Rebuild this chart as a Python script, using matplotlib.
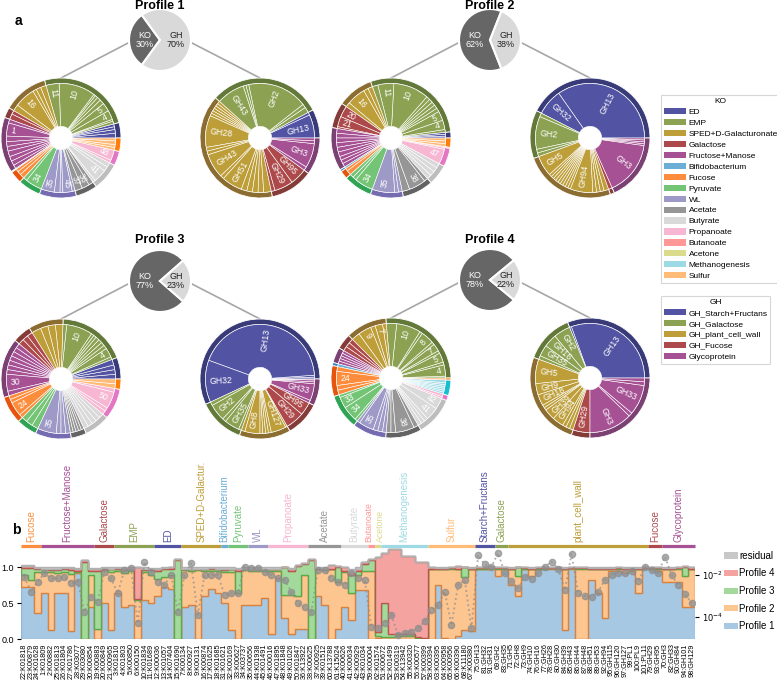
import numpy as np
import matplotlib
matplotlib.use('Agg')
import matplotlib.pyplot as plt
from matplotlib.patches import Patch

plt.rcParams.update({
    'font.family': 'sans-serif',
    'font.sans-serif': ['Liberation Sans', 'DejaVu Sans'],
    'font.size': 7,
})

W, H = 777, 690

# ===================== COLOURS (inner, ring) =====================
KO_COLORS = {
    'ED': ('#5254a3', '#393b79'),
    'EMP': ('#8ca252', '#637939'),
    'SPED+D-Galacturonate': ('#bd9e39', '#8c6d31'),
    'Galactose': ('#ad494a', '#843c39'),
    'Fructose+Manose': ('#a55194', '#7b4173'),
    'Bifidobacterium': ('#6baed6', '#3182bd'),
    'Fucose': ('#fd8d3c', '#e6550d'),
    'Pyruvate': ('#74c476', '#31a354'),
    'WL': ('#9e9ac8', '#756bb1'),
    'Acetate': ('#969696', '#636363'),
    'Butyrate': ('#d9d9d9', '#bdbdbd'),
    'Propanoate': ('#f7b6d2', '#e377c2'),
    'Butanoate': ('#ff9896', '#d62728'),
    'Acetone': ('#dbdb8d', '#bcbd22'),
    'Methanogenesis': ('#9edae5', '#17becf'),
    'Sulfur': ('#ffbb78', '#ff7f0e'),
}
GH_COLORS = {
    'GH_Starch+Fructans': ('#5254a3', '#393b79'),
    'GH_Galactose': ('#8ca252', '#637939'),
    'GH_plant_cell_wall': ('#bd9e39', '#8c6d31'),
    'GH_Fucose': ('#ad494a', '#843c39'),
    'Glycoprotein': ('#a55194', '#7b4173'),
}

# ===================== PANEL A DATA =====================
profiles = ['Profile 1', 'Profile 2', 'Profile 3', 'Profile 4']
ko_share = [30, 62, 77, 78]   # % KO, rest is GH

# donut slices: (category, slice sizes in degrees, {slice index: label})
p1_ko = [
    ('ED', [5, 4, 3, 3], {}),
    ('EMP', [3, 2, 10, 9, 5, 4, 3, 2, 39, 14], {2: '4', 3: '5', 8: '10', 9: '11'}),
    ('SPED+D-Galacturonate', [6, 5, 4, 22, 7], {3: '16'}),
    ('Galactose', [4, 6], {}),
    ('Fructose+Manose', [4, 14, 6, 5, 5, 6, 5, 5, 4], {1: '1'}),
    ('Bifidobacterium', [1], {}),
    ('Fucose', [3, 4, 5], {}),
    ('Pyruvate', [4, 18], {1: '34'}),
    ('WL', [14, 6, 3, 10, 3], {0: '35', 3: '45'}),
    ('Acetate', [8, 8, 5], {0: '37', 1: '36'}),
    ('Butyrate', [3, 14, 5, 5], {1: '41'}),
    ('Propanoate', [3, 11], {1: '48'}),
    ('Sulfur', [3, 3, 4, 3], {}),
]
p1_gh = [
    ('GH_Starch+Fructans', [25, 3], {0: 'GH13'}),
    ('GH_Galactose', [6, 4, 64, 3, 3, 30], {2: 'GH2', 5: 'GH43'}),
    ('GH_plant_cell_wall', [3, 3, 3, 3, 3, 3, 34, 4, 4, 26, 4, 22, 6, 6, 6, 6, 8],
     {6: 'GH28', 9: 'GH43', 11: 'GH51'}),
    ('GH_Fucose', [4, 20, 18], {1: 'GH29', 2: 'GH95'}),
    ('Glycoprotein', [4, 26, 3, 3], {1: 'GH3'}),
]
p2_ko = [
    ('ED', [2, 2, 2], {}),
    ('EMP', [3, 10, 10, 4, 4, 4, 4, 4, 38, 17, 6], {1: '4', 2: '5', 8: '10', 9: '11'}),
    ('SPED+D-Galacturonate', [5, 5, 20, 5], {2: '16'}),
    ('Galactose', [12, 11, 2], {0: '20', 1: '21'}),
    ('Fructose+Manose', [5, 5, 5, 5, 5, 5, 4, 4, 4], {}),
    ('Bifidobacterium', [2], {}),
    ('Fucose', [3, 5], {}),
    ('Pyruvate', [4, 4, 20], {2: '34'}),
    ('WL', [24, 4, 4], {0: '35'}),
    ('Acetate', [8, 18, 4], {1: '38'}),
    ('Butyrate', [5, 5, 5, 5], {}),
    ('Propanoate', [16, 2], {0: '47'}),
    ('Butanoate', [1], {}),
    ('Sulfur', [3, 3, 3], {}),
]
p2_gh = [
    ('GH_Starch+Fructans', [125, 28], {0: 'GH13', 1: 'GH32'}),
    ('GH_Galactose', [4, 35, 4, 4], {1: 'GH2'}),
    ('GH_plant_cell_wall', [22, 3, 3, 3, 3, 3, 3, 3, 3, 3, 24, 4, 4, 4, 5], {0: 'GH5', 10: 'GH94'}),
    ('GH_Fucose', [4], {}),
    ('Glycoprotein', [58, 2, 2, 2, 2], {0: 'GH3'}),
]
p3_ko = [
    ('ED', [5, 5, 5, 6], {}),
    ('EMP', [3, 10, 4, 4, 4, 4, 3, 3, 28, 4], {1: '4', 8: '10'}),
    ('SPED+D-Galacturonate', [8, 8, 8, 10], {}),
    ('Galactose', [6, 6, 6], {}),
    ('Fructose+Manose', [5, 5, 5, 5, 5, 5, 5, 18, 5], {7: '30'}),
    ('Fucose', [4, 4, 15, 4], {2: '24'}),
    ('Pyruvate', [6, 7, 7], {}),
    ('WL', [20, 5, 5, 5], {0: '35'}),
    ('Acetate', [3, 3, 3, 3, 3], {}),
    ('Butyrate', [5, 5, 5, 5, 5], {}),
    ('Propanoate', [4, 4, 18, 4], {2: '50'}),
    ('Sulfur', [5, 5], {}),
]
p3_gh = [
    ('GH_Starch+Fructans', [2, 2, 156, 45], {2: 'GH13', 3: 'GH32'}),
    ('GH_Galactose', [4, 18, 4, 16, 3], {1: 'GH2', 3: 'GH35'}),
    ('GH_plant_cell_wall', [4, 16, 3, 3, 3, 3, 16, 2], {1: 'GH8', 6: 'GH127'}),
    ('GH_Fucose', [20, 14], {0: 'GH29', 1: 'GH95'}),
    ('Glycoprotein', [3, 18, 2, 2, 1], {1: 'GH33'}),
]
p4_ko = [
    ('EMP', [2, 12, 3, 10, 3, 8, 3, 14, 3, 26, 11], {1: '4', 3: '5', 5: '7', 7: '8', 9: '10'}),
    ('SPED+D-Galacturonate', [4, 8, 5, 14, 9], {1: '7', 3: '9'}),
    ('Galactose', [5, 5, 5], {}),
    ('Fructose+Manose', [3, 3, 3, 3, 3], {}),
    ('Bifidobacterium', [3], {}),
    ('Fucose', [5, 15, 5, 5], {1: '24'}),
    ('Pyruvate', [3, 12, 16, 3], {1: '33', 2: '34'}),
    ('WL', [3, 16, 5, 5, 4], {1: '35'}),
    ('Acetate', [5, 5, 20, 5], {2: '38'}),
    ('Butyrate', [4, 4, 4, 14, 12], {3: '41', 4: '42'}),
    ('Propanoate', [2, 3], {}),
    ('Methanogenesis', [2, 2, 2, 2, 2, 2, 3], {}),
    ('Sulfur', [2], {}),
]
p4_gh = [
    ('GH_Starch+Fructans', [110, 2], {0: 'GH13'}),
    ('GH_Galactose', [18, 14, 12, 4], {0: 'GH2', 1: 'GH16', 2: 'GH35'}),
    ('GH_plant_cell_wall', [26, 12, 12, 3, 3, 12, 12, 4, 4, 4],
     {0: 'GH5', 1: 'GH9', 2: 'GH18', 5: 'GH39', 6: 'GH94'}),
    ('GH_Fucose', [18], {0: 'GH29'}),
    ('Glycoprotein', [46, 4, 32, 4, 4], {0: 'GH3', 2: 'GH33'}),
]
ko_donuts = [p1_ko, p2_ko, p3_ko, p4_ko]
gh_donuts = [p1_gh, p2_gh, p3_gh, p4_gh]

# ===================== PANEL B DATA =====================
ko_labels = ['22:K01818', '23:K00879', '24:K01628', '1:K01809', '2:K00882', '25:K01813', '26:K01804',
             '27:K01786', '28:K03077', '29:K03080', '30:K00854', '19:K00883', '20:K00849', '21:K00965',
             '3:K01810', '4:K01803', '5:K00850', '6:K00150', '10:K01834', '11:K01689',
             '12:K00036', '13:K01057', '14:K07404', '15:K01690',
             '7:K00134', '8:K00927', '9:K00131', '16:K00874', '17:K01625', '18:K01685',
             '31:K01621', '32:K00169', '33:K00627', '34:K03737', '35:K00656', '44:K01938', '45:K01491',
             '46:K00016', '47:K01895', '48:K01848', '49:K01026', '50:K01847', '36:K13922',
             '38:K00625', '37:K00925', '39:K01512', '60:K13788', '61:K15024',
             '40:K00626', '41:K00634', '42:K00929', '43:K01034', '59:K00004', '62:K01574',
             '51:K00672', '52:K01499', '53:K00319', '54:K13942', '55:K00320', '56:K00577', '57:K00399',
             '58:K00394', '63:K00395', '64:K00958', '65:K00956', '66:K00390', '68:K11180', '67:K00380']
gh_labels = ['75:GH13', '81:GH32', '91:GH31', '69:GH2', '83:GH35',
             '71:GH5', '72:GH8', '73:GH9', '74:GH10', '76:GH16', '77:GH26', '78:GH28', '80:GH30',
             '84:GH39', '85:GH43', '86:GH44', '87:GH48', '88:GH51', '89:GH53', '92:GH94', '95:GH115',
             '96:GH120', '97:GH127', '99:PL1', '100:PL9', '101:PL11',
             '79:GH29', '93:GH95', '70:GH3', '82:GH33', '90:GH84', '94:GH101', '98:GH129']
x_labels = ko_labels + gh_labels

band_names = ['Fucose', 'Fructose+Manose', 'Galactose', 'EMP', 'ED', 'SPED+D-Galactur.',
              'Bifidobacterium', 'Pyruvate', 'WL', 'Propanoate', 'Acetate', 'Butyrate',
              'Butanoate', 'Acetone', 'Methanogenesis', 'Sulfur',
              'Starch+Fructans', 'Galactose', 'plant_cell_wall', 'Fucose', 'Glycoprotein']
band_sizes = [3, 8, 3, 6, 4, 6, 1, 3, 3, 6, 5, 4, 1, 1, 7, 7, 3, 2, 21, 2, 5]
band_colors = ['#fd8d3c', '#a55194', '#ad494a', '#8ca252', '#5254a3', '#bd9e39', '#6baed6',
               '#74c476', '#9e9ac8', '#f7b6d2', '#969696', '#d9d9d9', '#ff9896', '#dbdb8d',
               '#9edae5', '#ffbb78', '#5254a3', '#8ca252', '#bd9e39', '#ad494a', '#a55194']

prof1 = [.73, .73, .36, .64, .13, .64, .64, .11, .92, 0, .45, 0, .50, .13, .65, .45, .48, 0, .55, .50,
         .60, .72, .70, 0, .45, .47, 0, .60, .70, .65, .50, .13, 0, .48, .48, .48, .58, .08, .85, .30,
         .08, .15, .15, 0, .60, .48, 0, .15, .45, .27, .68, .68, 0, .02, 0, 0, 0, 0, 0, 0,
         0, 0, .75, .02, 0, .04, .13, .12, .97, .97, .97, .88, .97, .75, .60, .97, .88, .97, .97, .98,
         .98, .13, .98, 0, 0, .82, .65, .30, .95, .95, .92, .95, .65, .99, .97, .95, .80, .80, .80, .45, .45]
prof2 = [.17, .09, .57, .30, .80, .28, .29, .80, .01, 0, .45, .15, .46, .81, .30, .47, .47, .55, .38, .40,
         .24, .15, .20, 0, .51, .48, .96, .35, .25, .30, .43, .81, .65, .48, .47, .47, .37, .87, .10, .32,
         .54, .45, .75, 0, .37, .48, .97, .65, .48, .38, .22, .27, .95, .03, .03, .03, .04, .05, .05, .02,
         .01, .97, .22, .95, .97, .93, .74, .85, .01, .01, .015, .09, .01, .22, .28, .01, .09, .01, .01, .01,
         .01, .84, .01, .98, .98, .15, .32, .67, .02, .02, .05, .02, .32, 0, .01, .03, .17, .17, .17, .43, .52]
prof3 = [.09, .17, .04, .03, .03, .04, .04, .05, .02, 1.08, .05, .80, .02, .03, .02, .04, .02, .01, .03, .06,
         .11, .10, .07, 1.10, .01, .02, .01, .02, .02, .02, .03, .03, .30, .01, .02, .02, .02, .02, .02, .38,
         .33, .42, .15, 1.10, .01, .01, .01, .20, .02, .25, .05, .10, .15, .05, .47, .05, .04, .03, .03, .01,
         .01, .01, .01, .01, .02, .01, .13, .01, .01, .01, .015, .02, .01, .01, .12, .01, .01, .01, .01, 0,
         0, .01, 0, .01, .01, .01, .01, .01, .01, .02, .01, .01, .01, 0, .01, .01, .01, .01, .02, .12, .01]
prof4 = [.03, .03, .02, .01, .02, .02, .02, .03, .02, .02, .02, .02, .01, .01, .02, .02, .01, .44, .02, .01,
         .02, .02, .03, .02, .01, .01, .01, .01, .02, .01, .02, .01, .02, .01, .01, .01, .01, .01, .01, .01,
         .02, .01, .01, .01, .01, .01, .05, .02, .05, .03, .02, .02, .02, 1.05, .70, 1.17, 1.17, 1.08, 1.08, 1.05,
         1.06, .02, .01, .01, .01, .04, .01, .01, .01, .01, .01, .01, .01, .01, .01, .01, .01, .01, .01, .01,
         .01, .01, .01, .01, .01, .01, .01, .01, .01, .01, .01, .01, .01, .01, .01, .01, .01, .01, .01, .02, .03]
resid = [.01, .01, .01, .02, .02, .02, .01, .01, .02, 0, .02, .02, .01, .02, .01, .02, .02, 0, .02, .02,
         .02, .01, 0, 0, .02, .02, .02, .02, .01, .02, .02, .02, .02, .02, .02, .02, .02, .02, .02, 0,
         .02, 0, 0, 0, .01, .02, 0, 0, 0, .04, .03, 0, 0, 0, 0, 0, 0, 0, 0, 0,
         0, 0, .01, .01, 0, 0, 0, .01, 0, 0, 0, 0, 0, .01, 0, 0, .01, 0, 0, 0,
         0, .01, 0, 0, 0, .01, .01, .01, .01, 0, .01, .01, .01, 0, 0, 0, .01, .01, 0, 0, 0]
# log10 abundance (grey dots, right axis)
dot_log = [-2.08, -2.79, -2.32, -1.92, -2.16, -2.16, -2.08, -2.40, -2.32, -3.75,
           -3.03, -3.27, -1.84, -2.16, -2.87, -1.76, -1.68, -4.30, -1.37, -1.84,
           -2.32, -2.48, -2.00, -3.75, -2.00, -1.45, -3.90, -2.00, -2.00, -2.00,
           -2.95, -2.87, -2.87, -1.60, -1.68, -1.68, -1.84, -2.00, -2.16, -2.24,
           -2.79, -3.35, -3.51, -3.75, -1.76, -1.76, -2.16, -2.32, -2.48, -1.92,
           -2.16, -2.24, -4.46, -4.54, -4.30, -3.90, -4.86, -4.78, -4.70, -4.54,
           -4.20, -3.67, -3.43, -2.79, -4.38, -2.48, -2.24, -4.54, -1.05, -1.50,
           -1.60, -0.95, -1.92, -2.30, -2.63, -2.08, -2.20, -1.92, -1.60, -1.37,
           -1.70, -2.71, -1.00, -2.87, -3.00, -3.03, -2.79, -2.24, -2.00, -1.90,
           -1.92, -1.80, -2.30, -1.60, -1.76, -1.90, -1.13, -2.00, -2.48, -2.90, -3.35]

# ===================== FIGURE =====================
fig = plt.figure(figsize=(W / 100, H / 100), dpi=100)
ax = fig.add_axes([0, 0, 1, 1])


def py(y):
    return H - y


def donut(cx, cy, groups, colors, R=60, ring=5.5, hole=11.7):
    cats = [g[0] for g in groups]
    tot = [sum(g[1]) for g in groups]
    ax.pie(tot, colors=[colors[c][1] for c in cats], radius=R, center=(cx, py(cy)),
           startangle=0, counterclock=True, frame=True,
           wedgeprops=dict(width=ring, edgecolor='white', linewidth=0.6))
    sub = [v for g in groups for v in g[1]]
    subcol = [colors[g[0]][0] for g in groups for v in g[1]]
    ax.pie(sub, colors=subcol, radius=R - ring, center=(cx, py(cy)),
           startangle=0, counterclock=True, frame=True,
           wedgeprops=dict(width=R - ring - hole, edgecolor='white', linewidth=0.4))
    total = float(sum(sub))
    a0 = 0.0
    for c, sizes, labs in groups:
        for i, v in enumerate(sizes):
            if i in labs:
                th = (a0 + v / 2) / total * 360
                t = np.deg2rad(th)
                rr = R - ring - 4
                x, y = cx + rr * np.cos(t), py(cy) + rr * np.sin(t)
                if 90 < th < 270:
                    rot, ha = th - 180, 'left'
                else:
                    rot, ha = th, 'right'
                ax.text(x, y, labs[i], rotation=rot, rotation_mode='anchor', ha=ha, va='center',
                        color='white', fontsize=6.3)
            a0 += v


small_centers = [(160, 40), (490, 40), (160, 281), (490, 280)]
title_y = [6, 6, 240, 240]
for k, (cx, cy) in enumerate(small_centers):
    ko = ko_share[k]
    gh = 100 - ko
    kx, gx = cx - 99, cx + 100
    dy = cy + 98
    # connecting lines
    ax.plot([cx - 30, kx], [py(cy + 2), py(dy - 60)], color='#a6a6a6', lw=1.2, zorder=0)
    ax.plot([cx + 30, gx], [py(cy + 2), py(dy - 60)], color='#a6a6a6', lw=1.2, zorder=0)
    ax.pie([ko, gh], colors=['#666666', '#d9d9d9'], radius=31, center=(cx, py(cy)),
           startangle=180 - ko * 1.8, counterclock=True, frame=True,
           wedgeprops=dict(edgecolor='white', linewidth=1.5))
    ax.text(cx - 15, py(cy), f'KO\n{ko}%', color='white', ha='center', va='center',
            fontsize=6.5, linespacing=0.95)
    ax.text(cx + 16, py(cy), f'GH\n{gh}%', color='#222222', ha='center', va='center',
            fontsize=6.5, linespacing=0.95)
    ax.text(cx, py(title_y[k]), profiles[k], ha='center', va='center', fontsize=9, weight='bold')
    donut(kx, dy, ko_donuts[k], KO_COLORS)
    donut(gx, dy, gh_donuts[k], GH_COLORS)

ax.set_xlim(0, W)
ax.set_ylim(0, H)
ax.set_aspect('auto')
ax.axis('off')

fig.text(15 / W, 1 - 21 / H, 'a', fontsize=10, weight='bold', va='center')
fig.text(12 / W, 1 - 530 / H, 'b', fontsize=10, weight='bold', va='center')

# legends for panel a
ko_handles = [Patch(facecolor=v[0], label=k) for k, v in KO_COLORS.items()]
gh_handles = [Patch(facecolor=v[0], label=k) for k, v in GH_COLORS.items()]
leg_kw = dict(loc='upper left', fontsize=6, title_fontsize=6, frameon=True, fancybox=False,
              edgecolor='#cccccc', handlelength=2.6, handleheight=0.75, labelspacing=0.36,
              borderpad=0.35, handletextpad=0.35, borderaxespad=0)
l1 = fig.legend(handles=ko_handles, title='KO', bbox_to_anchor=(661 / W, 1 - 95 / H), **leg_kw)
l2 = fig.legend(handles=gh_handles, title='GH', bbox_to_anchor=(661 / W, 1 - 296 / H), **leg_kw)
for lg in (l1, l2):
    lg.get_frame().set_linewidth(0.8)

# ===================== PANEL B =====================
n = len(x_labels)
ymax = 1.27
axb = fig.add_axes([21 / W, 1 - 639.3 / H, 674 / W, 91.4 / H])
axb.patch.set_alpha(0)
edges = np.arange(n + 1) - 0.5

layers = [
    (prof1, '#a6c8e3', '#8fb8d8', 'Profile 1'),
    (prof2, '#fdc590', '#d9823f', 'Profile 2'),
    (prof3, '#a3da9c', '#5ea84a', 'Profile 3'),
    (prof4, '#f4a3a1', '#b9574f', 'Profile 4'),
    (resid, '#c8c8c8', '#b0b0b0', 'residual'),
]
base = np.zeros(n)
for vals, fc, ec, lab in layers:
    top = base + np.array(vals)
    axb.stairs(top, edges, baseline=base, fill=True, facecolor=fc, edgecolor=ec, linewidth=1.0)
    base = top

axb.set_xlim(-0.5, n - 0.5)
axb.set_ylim(0, ymax)
axb.set_yticks([0, 0.5, 1.0])
axb.set_yticklabels(['0.0', '0.5', '1.0'], fontsize=6.5)
axb.tick_params(axis='y', length=3, width=0.8, pad=2)
axb.set_xticks(range(n))
axb.set_xticklabels(x_labels, rotation=90, fontsize=5.2)
axb.tick_params(axis='x', length=0, pad=3)
for s in axb.spines.values():
    s.set_visible(False)

# category band (two one-column labels nudged apart so they don't collide)
nudge = {'Butanoate': -0.35, 'Acetone': 0.35}
start = 0
for name, size, col in zip(band_names, band_sizes, band_colors):
    axb.plot([start - 0.5, start + size - 0.5], [1.296, 1.296], color=col, lw=2.3,
             solid_capstyle='butt', clip_on=False)
    fs = 6.3 if name in nudge else 7
    axb.text(start + size / 2 - 0.5 + nudge.get(name, 0), 1.356, name, rotation=90,
             ha='center', va='bottom', color=col, fontsize=fs)
    start += size

axt = axb.twinx()
axt.set_yscale('log')
axt.set_ylim(10 ** -5.06, 10 ** -0.71)
axt.plot(range(n), 10 ** np.array(dot_log), color='#8c8c8c', ls=':', lw=1.3, marker='o',
         ms=4.5, alpha=0.7)
axt.set_yticks([1e-2, 1e-4])
axt.set_yticklabels([r'$10^{-2}$', r'$10^{-4}$'], fontsize=6)
axt.minorticks_off()
axt.tick_params(axis='y', length=3, width=0.8, pad=2)
for s in axt.spines.values():
    s.set_visible(False)

b_handles = [Patch(facecolor=fc, label=lab) for vals, fc, ec, lab in layers[::-1]]
fig.legend(handles=b_handles, loc='upper left', bbox_to_anchor=(720 / W, 1 - 547 / H),
           frameon=False, fontsize=7, handlelength=1.4, handleheight=0.6,
           labelspacing=0.78, handletextpad=0.15, borderaxespad=0)

fig.savefig('out.png', dpi=100)
